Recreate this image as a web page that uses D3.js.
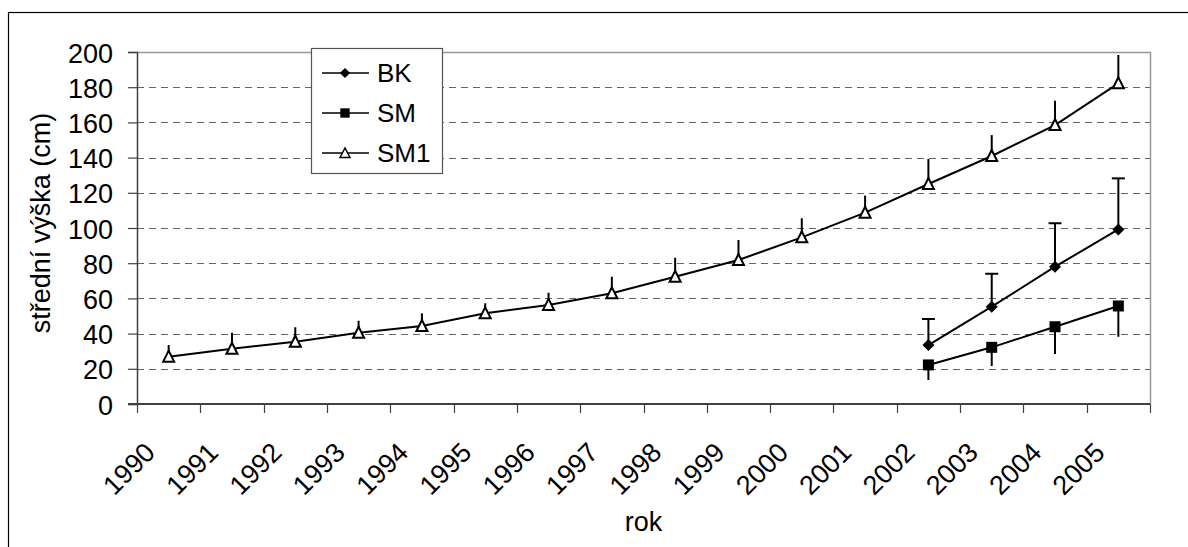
<!DOCTYPE html>
<html>
<head>
<meta charset="utf-8">
<script src="https://cdn.jsdelivr.net/npm/d3@7"></script>
<style>
  html, body { margin: 0; padding: 0; background: #fff; }
  svg { display: block; font-family: "Liberation Sans", Arial, sans-serif; }
</style>
</head>
<body>
<svg id="chart" width="1188" height="547"></svg>
<script>
// ---- data ----
const years = ["1990","1991","1992","1993","1994","1995","1996","1997","1998","1999","2000","2001","2002","2003","2004","2005"];
const yTicks = [0,20,40,60,80,100,120,140,160,180,200];

const sm1Years = years;
const sm1Values = [26.9,31.4,35.4,40.5,44.3,51.5,56.3,62.9,72.3,81.8,94.7,108.7,125.0,140.9,158.5,182.2];
const sm1ErrUp  = [6.6,9.1,8.2,6.8,7.2,5.7,6.9,9.4,10.8,11.4,10.8,9.7,14.2,11.9,13.8,16.1];

const bkYears = ["2002","2003","2004","2005"];
const bkValues = [33.5,55.3,78.0,99.2];
const bkErrUp  = [14.8,18.7,24.7,29.0];

const smYears = ["2002","2003","2004","2005"];
const smValues = [22.2,32.2,43.9,55.7];
const smErrDown = [8.6,10.6,15.5,17.5];

const seriesNames = ["BK","SM","SM1"];

// ---- layout ----
const svg = d3.select("#chart");
const L = 137, R = 1150, T = 52, B = 404;
const FS = 27;

const x = d3.scaleBand().domain(years).range([L, R]).padding(0);
const y = d3.scaleLinear().domain([0, 200]).range([B, T]);
const cx = d => x(d) + x.bandwidth() / 2;

// outer chart border
svg.append("rect").attr("x", 8.5).attr("y", 12.5).attr("width", 1300).attr("height", 700)
  .attr("fill", "none").attr("stroke", "#000").attr("stroke-width", 1.2);

// gridlines (dashed)
svg.append("g").selectAll("line").data(yTicks.filter(v => v > 0 && v < 200)).join("line")
  .attr("x1", L).attr("x2", R).attr("y1", d => Math.round(y(d)) + 0.5).attr("y2", d => Math.round(y(d)) + 0.5)
  .attr("stroke", "#666").attr("stroke-width", 1.2).attr("stroke-dasharray", "7,5");

// plot area border top/right (gray)
svg.append("path")
  .attr("d", `M${L},${T + 0.5}H${R + 0.5}V${B}`)
  .attr("fill", "none").attr("stroke", "#999").attr("stroke-width", 1.5);

// y axis
const yAxis = d3.axisLeft(y).tickValues(yTicks).tickSize(9).tickPadding(15).tickFormat(d3.format("d"));
const gy = svg.append("g").attr("transform", `translate(${L},0)`).call(yAxis);
gy.attr("font-size", FS).attr("font-family", "Liberation Sans, Arial, sans-serif");
gy.select(".domain").attr("stroke", "#404040").attr("stroke-width", 1.5);
gy.selectAll(".tick line").attr("stroke", "#404040").attr("stroke-width", 1.2);
gy.selectAll(".tick text").attr("font-size", FS).attr("fill", "#000").attr("dy", 10);

// x axis: ticks at category boundaries
const gx = svg.append("g");
gx.append("line").attr("x1", L - 9).attr("x2", R).attr("y1", B).attr("y2", B)
  .attr("stroke", "#404040").attr("stroke-width", 2);
const bounds = years.map(d => x(d)).concat([x(years[years.length - 1]) + x.bandwidth()]);
gx.selectAll("line.tk").data(bounds).join("line").attr("class", "tk")
  .attr("x1", d => Math.round(d) + 0.5).attr("x2", d => Math.round(d) + 0.5)
  .attr("y1", B).attr("y2", B + 9)
  .attr("stroke", "#404040").attr("stroke-width", 1.2);
gx.selectAll("text").data(years).join("text")
  .attr("transform", d => `translate(${cx(d) - 12},${B + 50}) rotate(-45)`)
  .attr("text-anchor", "end").attr("font-size", FS).attr("fill", "#000")
  .text(d => d);

// axis titles
svg.append("text").attr("transform", `translate(50,${(T + B) / 2 - 5}) rotate(-90)`)
  .attr("text-anchor", "middle").attr("font-size", FS).attr("fill", "#000")
  .text("střední výška (cm)");
svg.append("text").attr("x", (L + R) / 2).attr("y", 531)
  .attr("text-anchor", "middle").attr("font-size", FS).attr("fill", "#000")
  .text("rok");

// markers
const triPath = "M0,-6L5.5,5L-5.5,5Z";
const diamondPath = "M0,-6L6,0L0,6L-6,0Z";
const squarePath = "M-5.5,-5.5H5.5V5.5H-5.5Z";

const line = d3.line().x(d => cx(d[0])).y(d => y(d[1]));
const plot = svg.append("g");

// error bars
const eb = plot.append("g").attr("stroke", "#000").attr("stroke-width", 2);
sm1Years.forEach((d, i) => {
  eb.append("line").attr("x1", cx(d)).attr("x2", cx(d))
    .attr("y1", y(sm1Values[i])).attr("y2", y(sm1Values[i] + sm1ErrUp[i]));
});
bkYears.forEach((d, i) => {
  const top = y(bkValues[i] + bkErrUp[i]);
  eb.append("line").attr("x1", cx(d)).attr("x2", cx(d)).attr("y1", y(bkValues[i])).attr("y2", top);
  eb.append("line").attr("x1", cx(d) - 6.5).attr("x2", cx(d) + 6.5).attr("y1", top).attr("y2", top);
});
smYears.forEach((d, i) => {
  eb.append("line").attr("x1", cx(d)).attr("x2", cx(d))
    .attr("y1", y(smValues[i])).attr("y2", y(smValues[i] - smErrDown[i]));
});

// lines
const lineAttrs = p => p.attr("fill", "none").attr("stroke", "#000").attr("stroke-width", 2);
plot.append("path").datum(d3.zip(sm1Years, sm1Values)).attr("d", line).call(lineAttrs);
plot.append("path").datum(d3.zip(bkYears, bkValues)).attr("d", line).call(lineAttrs);
plot.append("path").datum(d3.zip(smYears, smValues)).attr("d", line).call(lineAttrs);

// points
plot.append("g").selectAll("path").data(d3.zip(sm1Years, sm1Values)).join("path")
  .attr("d", triPath).attr("transform", d => `translate(${cx(d[0])},${y(d[1])})`)
  .attr("fill", "#fff").attr("stroke", "#000").attr("stroke-width", 2);
plot.append("g").selectAll("path").data(d3.zip(bkYears, bkValues)).join("path")
  .attr("d", diamondPath).attr("transform", d => `translate(${cx(d[0])},${y(d[1])})`)
  .attr("fill", "#000");
plot.append("g").selectAll("path").data(d3.zip(smYears, smValues)).join("path")
  .attr("d", squarePath).attr("transform", d => `translate(${cx(d[0])},${y(d[1])})`)
  .attr("fill", "#000");

// legend
const lg = svg.append("g");
lg.append("rect").attr("x", 311.5).attr("y", 48.5).attr("width", 131).attr("height", 125)
  .attr("fill", "#fff").attr("stroke", "#555").attr("stroke-width", 1.2);
const legendMarks = [diamondPath, squarePath, "M0,-5L5,4.5L-5,4.5Z"];
seriesNames.forEach((name, i) => {
  const yy = 73 + i * 40;
  lg.append("line").attr("x1", 322).attr("x2", 369).attr("y1", yy).attr("y2", yy)
    .attr("stroke", "#000").attr("stroke-width", 1.5);
  const m = lg.append("path").attr("d", legendMarks[i]).attr("transform", `translate(345,${yy}) scale(${i === 2 ? 1 : 0.85})`);
  if (i === 2) m.attr("fill", "#fff").attr("stroke", "#000").attr("stroke-width", 1.5);
  else m.attr("fill", "#000");
  lg.append("text").attr("x", 377).attr("y", yy + 9).attr("font-size", 26).attr("fill", "#000").text(name);
});
</script>
</body>
</html>
